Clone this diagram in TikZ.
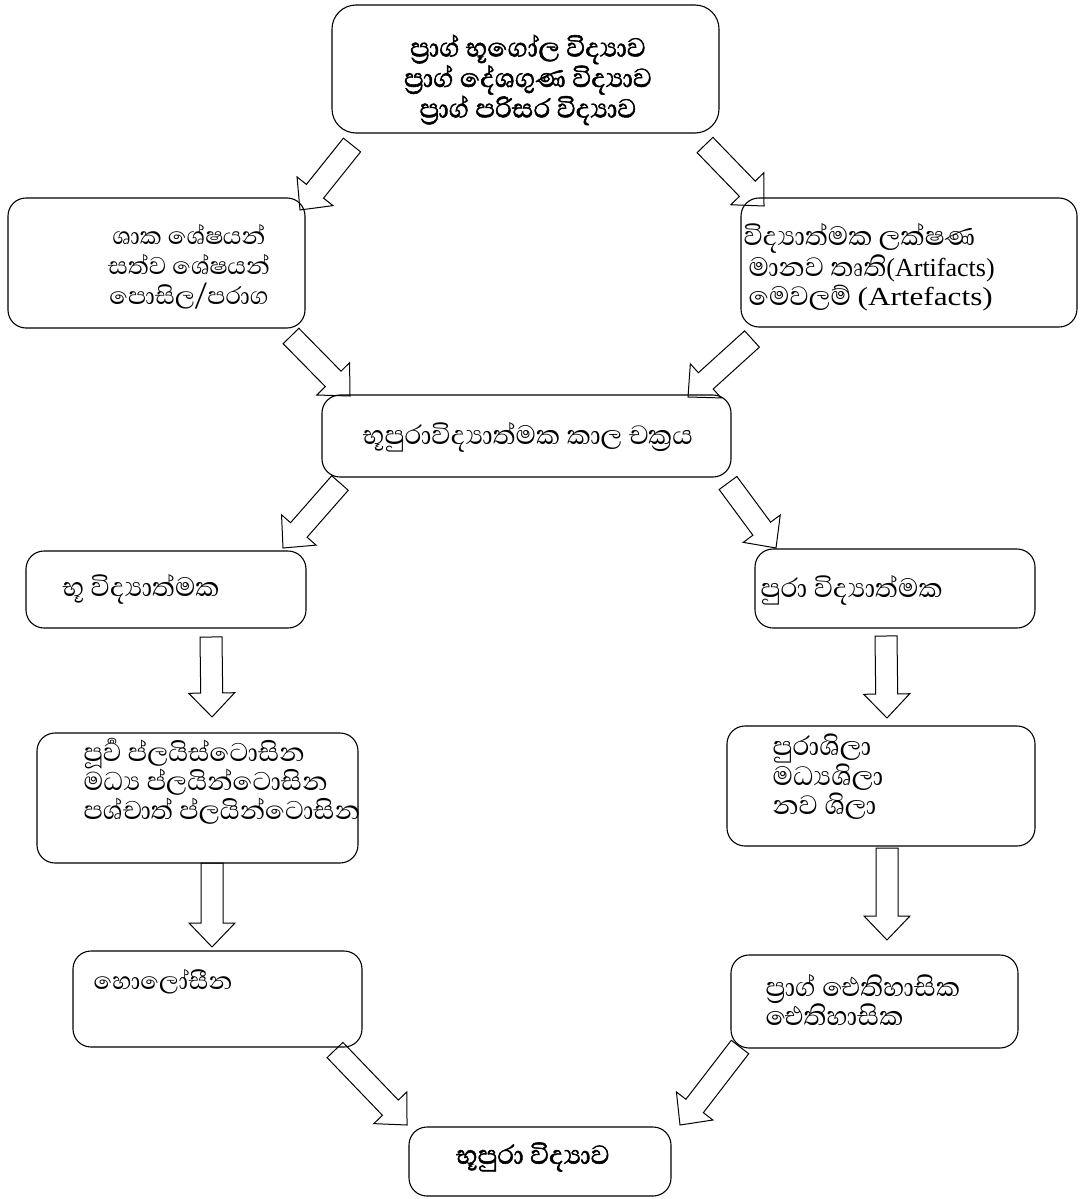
\documentclass[tikz,border=0pt]{standalone}
\usepackage{fontspec}
\setmainfont{Liberation Serif}
\newfontfamily\sinhalafont[Script=Sinhala]{Abhaya Libre}
\newfontfamily\sinhalabold[Script=Sinhala, FakeBold=1.6]{Abhaya Libre}
\newfontfamily\widelat[FakeStretch=1.2]{Liberation Serif}
\usetikzlibrary{calc}

% hollow block arrow from #1 (back) to #2 (tip)
\newcommand{\blockarrow}[2]{%
	\coordinate (#1b) at ($(#2)!24pt!(#1)$);
	\draw[hollow] ($(#1)!11pt!90:(#2)$) -- ($(#1b)!11pt!90:(#2)$) -- ($(#1b)!23pt!90:(#2)$) -- (#2)
		-- ($(#1b)!23pt!-90:(#2)$) -- ($(#1b)!11pt!-90:(#2)$) -- ($(#1)!11pt!-90:(#2)$) -- cycle;
}

\begin{document}
\begin{tikzpicture}[x=1pt, y=-1pt, line width=1.1pt,
		box/.style={draw, rectangle, rounded corners=18pt, inner sep=0pt},
		txt/.style={inner sep=0pt, font=\sinhalafont\fontsize{34}{29}\selectfont, align=left},
		smalltxt/.style={txt, font=\sinhalafont\fontsize{31}{30}\selectfont},
		boldtxt/.style={inner sep=0pt, font=\sinhalabold\fontsize{33.5}{28}\selectfont, align=center},
		hollow/.style={draw, line width=1pt, line join=miter}]
				\useasboundingbox (0,0) rectangle (1083,1199);
				
				% boxes
				\node[box, rounded corners=24pt, minimum width=387pt, minimum height=128pt] (pre) at (525.5, 69) {};
				\node[box, minimum width=297pt, minimum height=130pt] (bio) at (156.5, 263) {};
				\node[box, minimum width=336pt, minimum height=129pt] (cul) at (909, 262.5) {};
				\node[box, minimum width=409pt, minimum height=82pt] (chron) at (526.5, 436) {};
				\node[box, minimum width=280pt, minimum height=77pt] (geo) at (166, 589.5) {};
				\node[box, minimum width=280pt, minimum height=79pt] (arch) at (895, 588.5) {};
				\node[box, minimum width=321pt, minimum height=130pt] (plei) at (197.5, 798) {};
				\node[box, minimum width=308pt, minimum height=120pt] (lith) at (881, 786) {};
				\node[box, minimum width=289pt, minimum height=96pt] (holo) at (217.5, 999) {};
				\node[box, minimum width=287pt, minimum height=93pt] (hist) at (874.5, 1001.5) {};
				\node[box, minimum width=262pt, minimum height=69pt] (geoarch) at (540, 1161.5) {};
				
				% texts
				\node[boldtxt] (pretxt) at (528, 80) {ප්‍රාග් භූගෝල විද්‍යාව\\ප්‍රාග් දේශගුණ විද්‍යාව\\ප්‍රාග් පරිසර විද්‍යාව};
				\node[smalltxt, align=center] (biotxt) at (189, 267) {ශාක ශේෂයන්\\සත්ව ශේෂයන්\\පොසිල/පරාග};
				\node[txt, anchor=west] (cultxt) at (743, 267) {විද්‍යාත්මක ලක්ෂණ\\\hspace*{5pt}මානව තෘති{\rmfamily\fontsize{26}{29}\selectfont(Artifacts)}\\\hspace*{5pt}මෙවලම් {\widelat\fontsize{26}{29}\selectfont(Artefacts)}};
				\node[txt] (chrontxt) at (528, 437) {භූපුරාවිද්‍යාත්මක කාල චක්‍රය};
				\node[txt, anchor=west] (geotxt) at (62, 589) {භූ විද්‍යාත්මක};
				\node[txt, anchor=west] (archtxt) at (760, 590) {පුරා විද්‍යාත්මක};
				\node[txt, anchor=west, font=\sinhalafont\fontsize{33}{29}\selectfont] (pleitxt) at (83, 781) {පූර්‍ව ප්ලයිස්ටොසින\\මධ්‍ය ප්ලයින්ටොසින\\පශ්චාත් ප්ලයින්ටොසින};
				\node[txt, anchor=west] (lithtxt) at (772, 777) {පුරාශිලා\\මධ්‍යශිලා\\නව ශිලා};
				\node[smalltxt, anchor=west] (holotxt) at (93, 982) {හොලෝසීන};
				\node[txt, anchor=west] (histtxt) at (765, 1000) {ප්‍රාග් ඓතිහාසික\\ඓතිහාසික};
				\node[boldtxt] (geoarchtxt) at (533, 1157) {භූපුරා විද්‍යාව};
				
				% arrow ends
				\coordinate (s1) at (352, 145);  \coordinate (t1) at (300, 210);
				\coordinate (s2) at (705, 145);  \coordinate (t2) at (764, 206);
				\coordinate (s3) at (291, 336);  \coordinate (t3) at (350, 396);
				\coordinate (s4) at (752, 339);  \coordinate (t4) at (688, 397);
				\coordinate (s5) at (340, 483);  \coordinate (t5) at (283, 548);
				\coordinate (s6) at (728, 483);  \coordinate (t6) at (776, 548);
				\coordinate (s7) at (211, 637);  \coordinate (t7) at (212, 717);
				\coordinate (s8) at (886, 636);  \coordinate (t8) at (887, 718);
				\coordinate (s9) at (212, 863);  \coordinate (t9) at (212, 947);
				\coordinate (s10) at (887, 848); \coordinate (t10) at (887, 940);
				\coordinate (s11) at (335, 1050); \coordinate (t11) at (407, 1125);
				\coordinate (s12) at (740, 1047); \coordinate (t12) at (680, 1125);
				
				\foreach \i in {1,...,12}
					{\blockarrow{s\i}{t\i}}
			\end{tikzpicture}
\end{document}
